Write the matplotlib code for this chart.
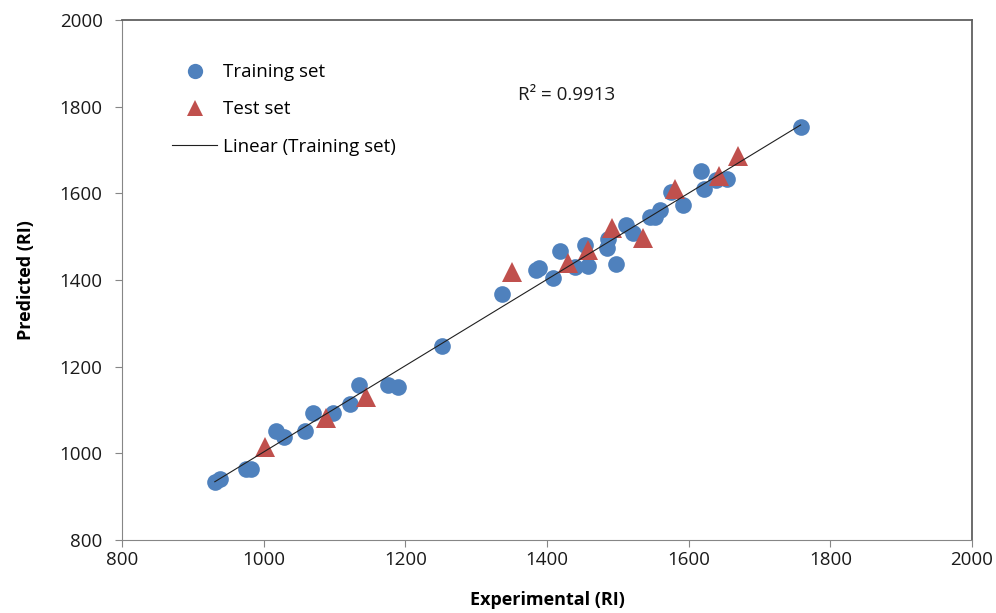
import numpy as np
import matplotlib.pyplot as plt

# Training set (experimental RI, predicted RI)
train_exp = [931, 938, 975, 982, 1017, 1029, 1059, 1070, 1098, 1122, 1135, 1176, 1190,
             1252, 1337, 1385, 1389, 1409, 1419, 1440, 1454, 1458, 1484, 1486, 1497,
             1512, 1522, 1545, 1552, 1560, 1575, 1592, 1617, 1622, 1638, 1654, 1758]
train_pred = [933, 940, 963, 965, 1052, 1037, 1051, 1094, 1092, 1113, 1158, 1158, 1154,
              1248, 1368, 1422, 1427, 1404, 1468, 1429, 1481, 1432, 1473, 1494, 1437,
              1527, 1509, 1546, 1546, 1562, 1602, 1573, 1652, 1609, 1631, 1633, 1754]

# Test set
test_exp = [1002, 1088, 1145, 1350, 1430, 1458, 1492, 1536, 1581, 1643, 1669]
test_pred = [1014, 1081, 1131, 1419, 1440, 1469, 1521, 1496, 1611, 1639, 1686]

r2_text = "R\u00b2 = 0.9913"

plt.rcParams['font.family'] = ['Open Sans', 'DejaVu Sans']

fig = plt.figure(figsize=(9.96, 6.13), dpi=100)
ax = fig.add_axes([122 / 996, 73 / 613, 850 / 996, 520 / 613])

blue = '#4F81BD'
red = '#C0504D'

ax.plot(train_exp, train_pred, 'o', color=blue, markersize=12, markeredgewidth=0,
        label='Training set', zorder=3)
ax.plot(test_exp, test_pred, '^', color=red, markersize=14, markeredgewidth=0,
        label='Test set', zorder=4)

# linear trendline fitted on the training set
k, b = np.polyfit(train_exp, train_pred, 1)
xs = np.array([min(train_exp), max(train_exp)])
ax.plot(xs, k * xs + b, color='#202020', linewidth=0.8, label='Linear (Training set)', zorder=5)

ax.text(1359, 1827, r2_text, fontsize=13.5, va='center', ha='left', color='#1a1a1a')

ax.set_xlim(800, 2000)
ax.set_ylim(800, 2000)
ax.set_xticks(np.arange(800, 2001, 200))
ax.set_yticks(np.arange(800, 2001, 200))
ax.tick_params(direction='out', length=5, color='#868686', labelsize=13.5, labelcolor='#1a1a1a')
ax.tick_params(axis='x', pad=3)
ax.tick_params(axis='y', pad=9)

for side in ['left', 'bottom']:
    ax.spines[side].set_color('#868686')
for side in ['top', 'right']:
    ax.spines[side].set_color('#606060')
    ax.spines[side].set_linewidth(1.3)

ax.set_xlabel('Experimental (RI)', fontsize=13, fontweight='bold', labelpad=16)
ax.set_ylabel('Predicted (RI)', fontsize=13, fontweight='bold', labelpad=18)

leg = ax.legend(loc='upper left', bbox_to_anchor=(0.059, 0.917), frameon=False, fontsize=13.5,
                handlelength=2.4, handletextpad=0.3, labelspacing=1.03, numpoints=1,
                borderpad=0, borderaxespad=0)
for h in leg.legend_handles[:2]:
    h.set_markersize(11)

fig.savefig('out.png', dpi=100)
